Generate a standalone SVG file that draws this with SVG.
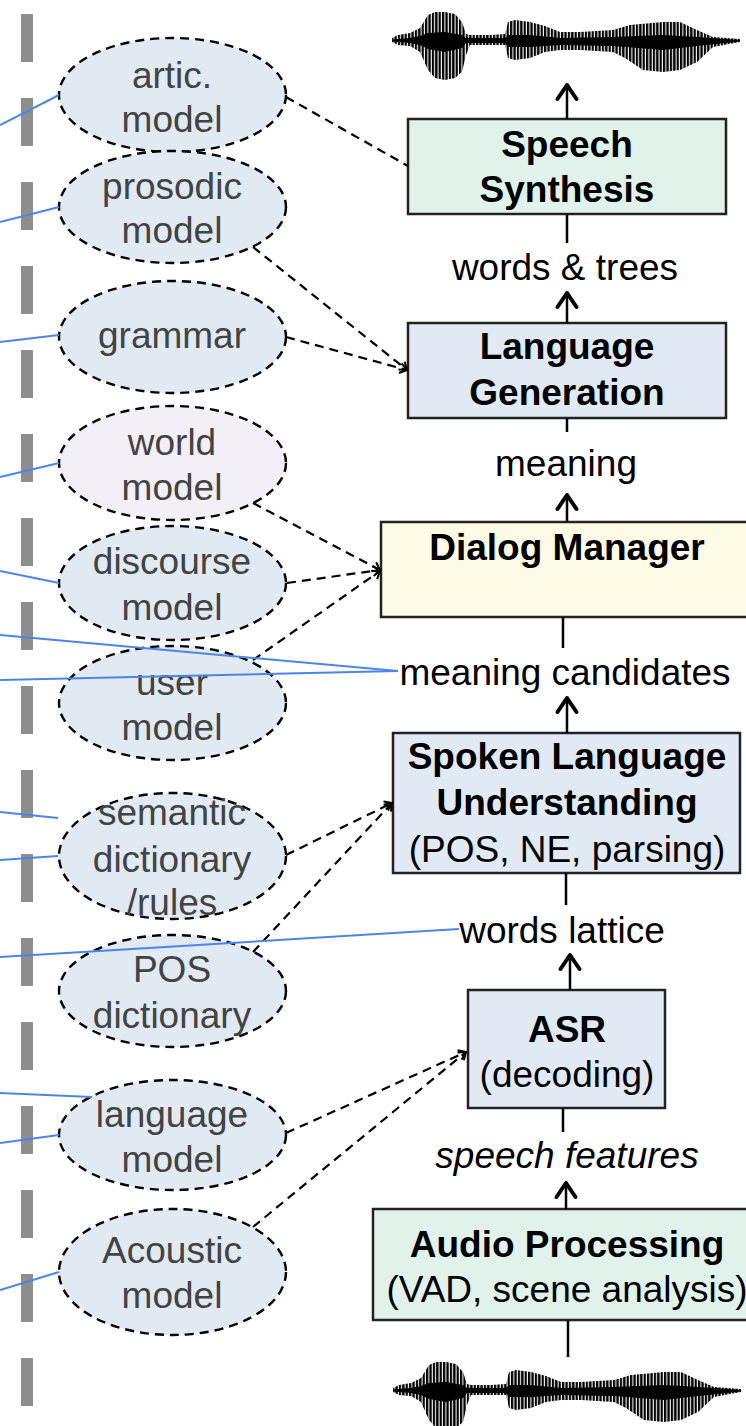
<svg xmlns="http://www.w3.org/2000/svg" xmlns:xlink="http://www.w3.org/1999/xlink" width="746" height="1426" viewBox="0 0 746 1426">
  <style>
    .ell { stroke: #000; stroke-width: 2.4; stroke-dasharray: 9 6; fill: #e1e9f3; }
    .ell-world { fill: #f3eff7; }
    .etxt { font-family: "Liberation Sans", Arial, sans-serif; font-size: 37px; fill: #434343; text-anchor: middle; }
    .box { stroke: #222; stroke-width: 2.5; }
    .green { fill: #e0f2e9; }
    .blue { fill: #e0e9f4; }
    .yellow { fill: #fdfbe5; }
    .btxt { font-family: "Liberation Sans", Arial, sans-serif; font-size: 37px; fill: #000; text-anchor: middle; }
    .bold { font-weight: bold; }
    .lbl { font-family: "Liberation Sans", Arial, sans-serif; font-size: 37px; fill: #000; text-anchor: middle; }
    .flow { stroke: #000; stroke-width: 2.5; fill: none; }
    .use { stroke: #000; stroke-width: 2.2; stroke-dasharray: 9 6; fill: none; }
    .src { stroke: #4a86e8; stroke-width: 2; fill: none; }
  </style>
  <defs>
    <marker id="up" viewBox="-20 -15 25 30" markerWidth="25" markerHeight="30" refX="0" refY="0" orient="auto" markerUnits="userSpaceOnUse">
      <path d="M-14,-9.5 L0,0 L-14,9.5" fill="none" stroke="#000" stroke-width="4" stroke-linejoin="round" stroke-linecap="round"/>
    </marker>
    <marker id="small" viewBox="-12 -8 14 16" markerWidth="14" markerHeight="16" refX="0" refY="0" orient="auto" markerUnits="userSpaceOnUse">
      <path d="M-7,-5 L0,0 L-7,5" fill="none" stroke="#000" stroke-width="2" stroke-dasharray="none"/>
    </marker>
    <pattern id="stripes" width="3.4" height="10" patternUnits="userSpaceOnUse">
      <rect x="0" y="0" width="2.3" height="10" fill="#000"/>
    </pattern>
    <!-- waveform: striped envelope with a solid core -->
    <g id="wave">
      <polygon fill="url(#stripes)" points="392,38 398,35 410,33 420,28 428,15 435,12 445,12 455,14 462,22 466,34 470,35 490,35 505,34 508,22 515,20 530,22 545,26 560,32 580,32 613,30 630,25 663,22 680,22 697,30 713,37 740,39 740,42 713,47 697,62 680,70 663,72 643,70 625,58 613,52 580,50 560,50 545,52 530,58 515,60 508,58 505,45 490,45 470,45 466,55 462,72 455,78 445,80 435,78 428,70 420,52 410,46 398,45 392,42"/>
      <polygon fill="#000" points="392,39.5 410,38 420,36 428,33 445,32 462,35 466,38 505,38 508,35 530,35 560,38 613,37 663,35 697,37 740,40 740,41.5 697,46 663,50 613,46 560,45 530,47 508,47 505,43 466,43 462,48 445,52 428,49 420,45 410,43 392,41.5"/>
    </g>
  </defs>

  <rect width="746" height="1426" fill="#fff"/>

  <!-- divider -->
  <line id="divider" x1="27" y1="14" x2="27" y2="1406" stroke="#8e8e8e" stroke-width="12" stroke-dasharray="48 36"/>

  <!-- waveforms -->
  <g id="wave-out"><use xlink:href="#wave"/></g>
  <g id="wave-in"><use xlink:href="#wave" transform="translate(1,1350)"/></g>

  <!-- knowledge sources -->
  <g id="artic-model">
    <ellipse class="ell" cx="172.5" cy="95" rx="113.5" ry="57"/>
    <text class="etxt" x="172" y="88">artic.</text>
    <text class="etxt" x="172" y="132">model</text>
  </g>
  <g id="prosodic-model">
    <ellipse class="ell" cx="172.5" cy="207" rx="113.5" ry="56"/>
    <text class="etxt" x="172" y="199">prosodic</text>
    <text class="etxt" x="172" y="243">model</text>
  </g>
  <g id="grammar">
    <ellipse class="ell" cx="172.5" cy="337" rx="113.5" ry="56"/>
    <text class="etxt" x="172" y="348">grammar</text>
  </g>
  <g id="world-model">
    <ellipse class="ell ell-world" cx="172.5" cy="463" rx="113.5" ry="57"/>
    <text class="etxt" x="172" y="455">world</text>
    <text class="etxt" x="172" y="500">model</text>
  </g>
  <g id="discourse-model">
    <ellipse class="ell" cx="172.5" cy="583" rx="113.5" ry="57"/>
    <text class="etxt" x="172" y="574">discourse</text>
    <text class="etxt" x="172" y="620">model</text>
  </g>
  <g id="user-model">
    <ellipse class="ell" cx="172.5" cy="703" rx="113.5" ry="57"/>
    <text class="etxt" x="172" y="695">user</text>
    <text class="etxt" x="172" y="740">model</text>
  </g>
  <g id="semantic-dictionary">
    <ellipse class="ell" cx="172.5" cy="856" rx="113.5" ry="63"/>
    <text class="etxt" x="172" y="825">semantic</text>
    <text class="etxt" x="172" y="872">dictionary</text>
    <text class="etxt" x="172" y="915">/rules</text>
  </g>
  <g id="pos-dictionary">
    <ellipse class="ell" cx="172.5" cy="991" rx="113.5" ry="56"/>
    <text class="etxt" x="172" y="982">POS</text>
    <text class="etxt" x="172" y="1028">dictionary</text>
  </g>
  <g id="language-model">
    <ellipse class="ell" cx="172.5" cy="1135" rx="113.5" ry="55"/>
    <text class="etxt" x="172" y="1127">language</text>
    <text class="etxt" x="172" y="1172">model</text>
  </g>
  <g id="acoustic-model">
    <ellipse class="ell" cx="172.5" cy="1272" rx="113.5" ry="63"/>
    <text class="etxt" x="172" y="1263">Acoustic</text>
    <text class="etxt" x="172" y="1308">model</text>
  </g>

  <!-- processing stages -->
  <g id="speech-synthesis">
    <rect class="box green" x="408" y="119" width="318" height="95"/>
    <text class="btxt bold" x="567" y="157">Speech</text>
    <text class="btxt bold" x="567" y="202">Synthesis</text>
  </g>
  <g id="language-generation">
    <rect class="box blue" x="408" y="323" width="318" height="95"/>
    <text class="btxt bold" x="567" y="359">Language</text>
    <text class="btxt bold" x="567" y="405">Generation</text>
  </g>
  <g id="dialog-manager">
    <rect class="box yellow" x="381" y="522" width="380" height="95"/>
    <text class="btxt bold" x="567" y="560">Dialog Manager</text>
  </g>
  <g id="slu">
    <rect class="box blue" x="393" y="733" width="347" height="140"/>
    <text class="btxt bold" x="567" y="769">Spoken Language</text>
    <text class="btxt bold" x="567" y="815">Understanding</text>
    <text class="btxt" x="567" y="862">(POS, NE, parsing)</text>
  </g>
  <g id="asr">
    <rect class="box blue" x="468" y="990" width="197" height="118"/>
    <text class="btxt bold" x="567" y="1042">ASR</text>
    <text class="btxt" x="567" y="1087">(decoding)</text>
  </g>
  <g id="audio-processing">
    <rect class="box green" x="373" y="1209" width="390" height="111"/>
    <text class="btxt bold" x="567" y="1257">Audio Processing</text>
    <text class="btxt" x="567" y="1302">(VAD, scene analysis)</text>
  </g>

  <!-- intermediate representations -->
  <g id="labels">
    <text class="lbl" x="565" y="280">words &amp; trees</text>
    <text class="lbl" x="566" y="476">meaning</text>
    <text class="lbl" x="565" y="685">meaning candidates</text>
    <text class="lbl" x="562" y="943">words lattice</text>
    <text class="lbl" x="567" y="1168" font-style="italic">speech features</text>
  </g>

  <g id="connectors">
    <!-- main pipeline -->
    <line class="flow" x1="568" y1="1357" x2="568" y2="1320"/>
    <line class="flow" x1="566" y1="1209" x2="566" y2="1183" marker-end="url(#up)"/>
    <line class="flow" x1="563" y1="1132" x2="563" y2="1108"/>
    <line class="flow" x1="570" y1="990" x2="570" y2="955" marker-end="url(#up)"/>
    <line class="flow" x1="566" y1="905" x2="566" y2="873"/>
    <line class="flow" x1="567" y1="733" x2="567" y2="698" marker-end="url(#up)"/>
    <line class="flow" x1="563" y1="648" x2="563" y2="617"/>
    <line class="flow" x1="567" y1="522" x2="567" y2="495" marker-end="url(#up)"/>
    <line class="flow" x1="567" y1="432" x2="567" y2="418"/>
    <line class="flow" x1="567" y1="323" x2="567" y2="293" marker-end="url(#up)"/>
    <line class="flow" x1="567" y1="243" x2="567" y2="214"/>
    <line class="flow" x1="567" y1="119" x2="567" y2="85" marker-end="url(#up)"/>

    <!-- knowledge used by each stage -->
    <line class="use" x1="286" y1="97" x2="408" y2="166"/>
    <line class="use" x1="253" y1="247" x2="407" y2="370" marker-end="url(#small)"/>
    <line class="use" x1="286" y1="337" x2="407" y2="370" marker-end="url(#small)"/>
    <line class="use" x1="253" y1="503" x2="380" y2="570" marker-end="url(#small)"/>
    <line class="use" x1="287" y1="583" x2="380" y2="570" marker-end="url(#small)"/>
    <line class="use" x1="253" y1="660" x2="380" y2="571" marker-end="url(#small)"/>
    <line class="use" x1="286" y1="855" x2="392" y2="803" marker-end="url(#small)"/>
    <line class="use" x1="253" y1="952" x2="392" y2="803" marker-end="url(#small)"/>
    <line class="use" x1="286" y1="1133" x2="466" y2="1052" marker-end="url(#small)"/>
    <line class="use" x1="253" y1="1227" x2="466" y2="1052" marker-end="url(#small)"/>

    <!-- links from the left -->
    <line class="src" x1="0" y1="125" x2="59" y2="95"/>
    <line class="src" x1="0" y1="222" x2="59" y2="207"/>
    <line class="src" x1="0" y1="342" x2="59" y2="335"/>
    <line class="src" x1="0" y1="477" x2="59" y2="463"/>
    <line class="src" x1="0" y1="571" x2="59" y2="583"/>
    <line class="src" x1="0" y1="635" x2="398" y2="671"/>
    <line class="src" x1="0" y1="680" x2="398" y2="671"/>
    <line class="src" x1="0" y1="812" x2="58" y2="818"/>
    <line class="src" x1="0" y1="860" x2="58" y2="856"/>
    <line class="src" x1="0" y1="957" x2="459" y2="929"/>
    <line class="src" x1="0" y1="1093" x2="92" y2="1097"/>
    <line class="src" x1="0" y1="1143" x2="59" y2="1135"/>
    <line class="src" x1="0" y1="1290" x2="59" y2="1272"/>
  </g>
</svg>
